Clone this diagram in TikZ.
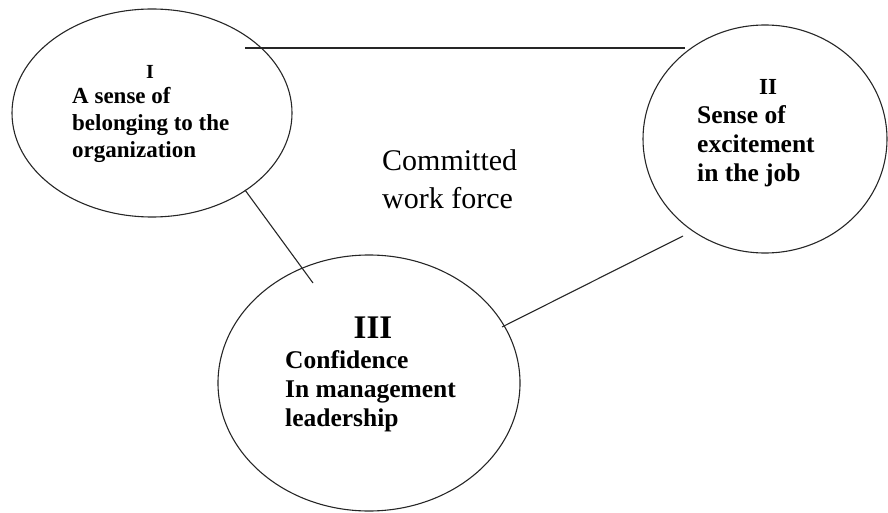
\documentclass[tikz,border=0pt]{standalone}
\usepackage{fontspec}
\setmainfont{Liberation Serif}
\usetikzlibrary{shapes.geometric}
\begin{document}
\begin{tikzpicture}[x=1pt,y=-1pt,
  oval/.style={draw=black!85,line width=1.1pt,ellipse,inner sep=0pt},
  link/.style={draw=black!85,line width=1.1pt},
  lbl/.style={anchor=base west,align=left,inner sep=0pt,font=\bfseries},
  ttl/.style={anchor=base,inner sep=0pt,font=\bfseries}]
\useasboundingbox (0,0) rectangle (888,513);
% ellipses
\node[oval,minimum width=280pt,minimum height=208pt] (I) at (152,113) {};
\node[oval,minimum width=244pt,minimum height=228pt] (II) at (765,139) {};
\node[oval,minimum width=302pt,minimum height=256pt] (III) at (369,383) {};
% connectors
\draw[link] ([shift={(93,-65)}]I.center) -- ([shift={(-80,-91)}]II.center);
\draw[link] ([shift={(93,77)}]I.center) -- ([shift={(-56,-100)}]III.center);
\draw[link] ([shift={(133,-56)}]III.center) -- ([shift={(-82,97)}]II.center);
% texts (base anchor = baseline of the last line)
\node[ttl,font=\bfseries\fontsize{20}{24}\selectfont] (tI) at (150,79) {I};
\node[lbl,font=\bfseries\fontsize{23}{27}\selectfont] (xI) at (72,158)
  {A sense of\\belonging to the\\organization};
\node[ttl,font=\bfseries\fontsize{23}{27}\selectfont] (tII) at (768,95) {II};
\node[lbl,font=\bfseries\fontsize{25.5}{29}\selectfont] (xII) at (697,182)
  {Sense of\\excitement\\in the job};
\node[ttl,font=\bfseries\fontsize{33}{36}\selectfont] (tIII) at (373,338) {III};
\node[lbl,font=\bfseries\fontsize{25.5}{29}\selectfont] (xIII) at (285,426)
  {Confidence\\In management\\leadership};
\node[lbl,font=\fontsize{30}{38}\selectfont] (c) at (382,208)
  {Committed\\work force};
\end{tikzpicture}
\end{document}
